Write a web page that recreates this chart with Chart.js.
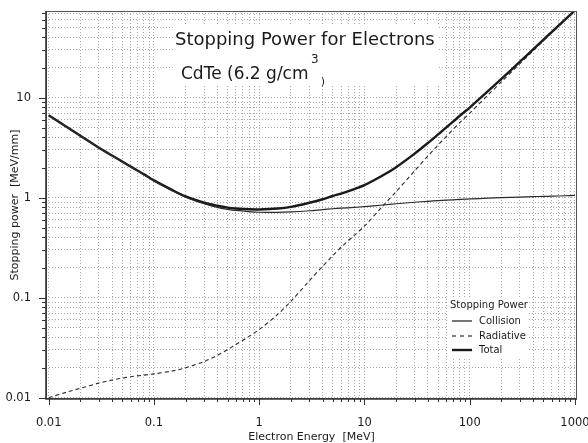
<!DOCTYPE html>
<html><head><meta charset="utf-8">
<script src="https://cdn.jsdelivr.net/npm/chart.js@4.4.1/dist/chart.umd.min.js"></script>
<style>html,body{margin:0;padding:0;background:#fff;}</style>
</head><body>
<canvas id="c" width="588" height="443"></canvas>
<script>
// ---- data ----
const energies  = [0.01,0.015,0.02,0.03,0.04,0.05,0.06,0.08,0.1,0.15,0.2,0.3,0.4,0.5,0.6,0.8,1,1.5,2,3,4,5,6,8,10,15,20,30,40,50,60,80,100,150,200,300,400,500,600,800,1000];
const collision = [6.68,5.05,4.15,3.15,2.62,2.28,2.03,1.70,1.47,1.17,1.01,0.87,0.80,0.765,0.745,0.725,0.715,0.712,0.72,0.74,0.76,0.775,0.785,0.80,0.815,0.845,0.87,0.90,0.92,0.935,0.945,0.96,0.975,0.99,1.00,1.015,1.025,1.03,1.035,1.045,1.055];
const radiative = [0.0100,0.0114,0.0124,0.0140,0.0150,0.0157,0.0162,0.0168,0.0173,0.0185,0.0199,0.0230,0.0265,0.0302,0.0340,0.0410,0.048,0.068,0.092,0.148,0.206,0.263,0.32,0.42,0.52,0.83,1.15,1.86,2.60,3.36,4.10,5.6,7.0,10.7,14.4,21.9,29.4,36.9,44.3,59.0,73.5];
const total     = [6.69,5.06,4.16,3.16,2.64,2.30,2.05,1.72,1.49,1.19,1.03,0.89,0.83,0.795,0.78,0.765,0.763,0.78,0.81,0.89,0.965,1.04,1.10,1.22,1.335,1.675,2.02,2.76,3.52,4.29,5.04,6.56,7.97,11.7,15.4,22.9,30.4,37.9,45.3,60.0,74.5];
const seriesNames = ['Collision','Radiative','Total'];
const xTickLabels = ['0.01','0.1','1','10','100','1000'];
const yTickLabels = ['0.01','0.1','1','10'];
const titleText = 'Stopping Power for Electrons';
const subtitleText = 'CdTe (6.2 g/cm';
const legendTitle = 'Stopping Power';

const FONT = '"DejaVu Sans", Verdana, sans-serif';

function decadeGrid(lo, hi) {
  const out = [];
  for (let e = Math.floor(Math.log10(lo)); e <= Math.ceil(Math.log10(hi)); e++) {
    for (let m = 1; m <= 9; m++) {
      const v = +(m * Math.pow(10, e)).toPrecision(6);
      if (v >= lo * 0.999 && v <= hi * 1.001) out.push(v);
    }
  }
  return out;
}
function labelFor(list, v) {
  for (const l of list) if (Math.abs(Math.log10(parseFloat(l)) - Math.log10(v)) < 1e-6) return l;
  return '';
}
const pts = arr => energies.map((e, i) => ({x: e, y: arr[i]}));

const X_MIN = 0.00943, X_MAX = 1045, Y_MIN = 0.0097, Y_MAX = 73.6;

const decor = {
  id: 'decor',
  beforeDatasetsDraw(chart) {
    const ctx = chart.ctx;
    ctx.save();
    // white boxes behind title and legend
    ctx.fillStyle = '#fff';
    ctx.fillRect(173, 26, 266, 58);
    ctx.fillRect(447, 297, 80, 61);
    ctx.fillStyle = '#1a1a1a';
    ctx.textBaseline = 'alphabetic';
    ctx.textAlign = 'left';
    ctx.font = '18px ' + FONT;
    ctx.fillText(titleText, 175, 45);
    ctx.font = '17px ' + FONT;
    ctx.fillText(subtitleText, 181, 79);
    const w = ctx.measureText(subtitleText).width;
    ctx.font = '12px ' + FONT;
    ctx.fillText('3', 181 + w + 2.5, 63);
    const w3 = ctx.measureText('3').width;
    ctx.font = '11px ' + FONT;
    ctx.fillText(')', 181 + w + w3 + 4.5, 84.5);
    // legend
    ctx.font = '10px ' + FONT;
    ctx.textBaseline = 'middle';
    ctx.fillText(legendTitle, 450, 305);
    const rows = [
      {name: seriesNames[0], y: 321, w: 1.2, dash: []},
      {name: seriesNames[1], y: 336, w: 1.1, dash: [4, 4]},
      {name: seriesNames[2], y: 350, w: 2.4, dash: []}
    ];
    for (const r of rows) {
      ctx.beginPath();
      ctx.setLineDash(r.dash);
      ctx.lineWidth = r.w;
      ctx.strokeStyle = '#1a1a1a';
      ctx.moveTo(452, r.y);
      ctx.lineTo(472, r.y);
      ctx.stroke();
      ctx.setLineDash([]);
      ctx.fillText(r.name, 479, r.y + 0.5);
    }
    ctx.restore();
  },
  afterDraw(chart) {
    const ctx = chart.ctx;
    const a = chart.chartArea;
    const xs = chart.scales.x, ys = chart.scales.y;
    ctx.save();
    ctx.setLineDash([]);
    // frame
    ctx.strokeStyle = '#555';
    ctx.lineWidth = 1;
    ctx.strokeRect(a.left + 0.5, a.top + 0.5, a.right - a.left - 1, a.bottom - a.top - 1);
    ctx.strokeStyle = '#333';
    ctx.lineWidth = 1.6;
    ctx.beginPath();
    ctx.moveTo(a.left, a.top); ctx.lineTo(a.left, a.bottom); ctx.lineTo(a.right, a.bottom);
    ctx.stroke();
    // tick marks
    ctx.lineWidth = 1;
    ctx.strokeStyle = '#333';
    ctx.beginPath();
    for (const v of decadeGrid(0.01, 1000)) {
      const major = labelFor(xTickLabels, v) !== '';
      const px = Math.round(xs.getPixelForValue(v)) + 0.5;
      ctx.moveTo(px, a.bottom);
      ctx.lineTo(px, a.bottom + (major ? 6 : 3));
    }
    for (const v of decadeGrid(0.01, Y_MAX)) {
      const major = labelFor(yTickLabels, v) !== '';
      const py = Math.round(ys.getPixelForValue(v)) + 0.5;
      ctx.moveTo(a.left, py);
      ctx.lineTo(a.left - (major ? 7 : 4), py);
    }
    ctx.stroke();
    ctx.restore();
  }
};

new Chart(document.getElementById('c'), {
  type: 'line',
  data: {
    datasets: [
      {label: seriesNames[0], data: pts(collision), borderColor: '#2a2a2a', borderWidth: 1.2, pointRadius: 0, tension: 0.3},
      {label: seriesNames[1], data: pts(radiative), borderColor: '#2a2a2a', borderWidth: 1.1, borderDash: [4, 3], pointRadius: 0, tension: 0.3},
      {label: seriesNames[2], data: pts(total), borderColor: '#1a1a1a', borderWidth: 2.4, pointRadius: 0, tension: 0.3}
    ]
  },
  options: {
    responsive: false,
    animation: false,
    devicePixelRatio: 1,
    layout: {padding: {top: 11, right: 11, left: 0, bottom: 0}},
    plugins: {legend: {display: false}, tooltip: {enabled: false}},
    scales: {
      x: {
        type: 'logarithmic', min: X_MIN, max: X_MAX,
        afterFit: s => { s.height = 44; s.paddingLeft = 0; s.paddingRight = 0; },
        afterBuildTicks: s => { s.ticks = decadeGrid(0.01, 1000).map(v => ({value: v})); },
        ticks: {autoSkip: false, maxRotation: 0, minRotation: 0, padding: 17, color: '#1a1a1a',
                font: {family: FONT, size: 11.5}, callback: v => labelFor(xTickLabels, v)},
        grid: {color: '#a8a8a8', lineWidth: 1, drawTicks: false},
        border: {display: false, dash: [1, 2]},
        title: {display: true, text: 'Electron Energy  [MeV]', color: '#1a1a1a',
                font: {family: FONT, size: 11, lineHeight: 1}, padding: {top: 0, bottom: 0}}
      },
      y: {
        type: 'logarithmic', min: Y_MIN, max: Y_MAX,
        afterFit: s => { s.width = 46; s.paddingTop = 0; s.paddingBottom = 0; },
        afterBuildTicks: s => { s.ticks = decadeGrid(0.01, Y_MAX).map(v => ({value: v})); },
        ticks: {autoSkip: false, padding: 15, color: '#1a1a1a',
                font: {family: FONT, size: 11.5}, callback: v => labelFor(yTickLabels, v)},
        grid: {color: '#a8a8a8', lineWidth: 1, drawTicks: false},
        border: {display: false, dash: [1, 2]},
        title: {display: true, text: 'Stopping power  [MeV/mm]', color: '#1a1a1a',
                font: {family: FONT, size: 11, lineHeight: 1}, padding: {top: 9.5, bottom: 0}}
      }
    }
  },
  plugins: [decor]
});
</script>
</body></html>
